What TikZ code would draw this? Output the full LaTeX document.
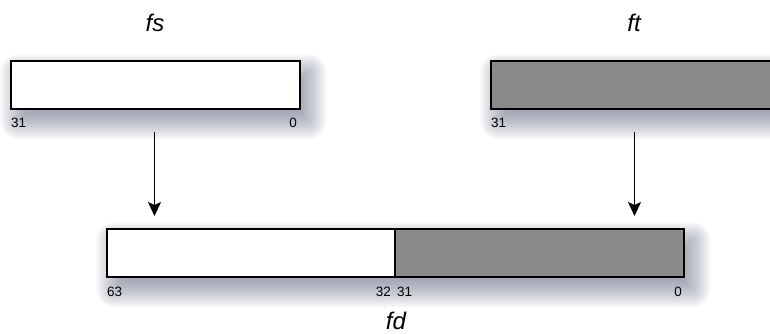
\documentclass[tikz,border=0pt]{standalone}
\usepackage{fontspec}
\setmainfont{Liberation Sans}
\usetikzlibrary{arrows.meta,positioning,backgrounds}
\definecolor{regshade}{RGB}{138,138,138}
\definecolor{shadowtint}{RGB}{70,78,108}
\tikzset{
  regbox/.style={draw=black,line width=1.5pt,minimum height=48pt,inner sep=0pt,anchor=north west},
  bitno/.style={font=\fontsize{13.5}{14}\selectfont,inner sep=0pt},
  regname/.style={font=\itshape\fontsize{24}{26}\selectfont,inner sep=0pt,anchor=base},
  moveto/.style={line width=1.1pt,-{Stealth[length=14pt,width=13pt,inset=3pt]}}
}
% soft shadow behind the span from #1.north west to #2.south east
\newcommand{\regshadow}[2]{%
  \foreach \k in {0,...,27}{%
    \pgfmathsetmacro{\rr}{18-\k}%
    \pgfmathsetmacro{\rc}{max(\rr,1)}%
    \fill[shadowtint,opacity=0.022,rounded corners=\rc pt]
      ([shift={(8-\rr,12-\rr)}]#1.north west) rectangle ([shift={(8+\rr,12+\rr)}]#2.south east);%
  }%
}

\begin{document}
\begin{tikzpicture}[x=1pt,y=-1pt]
  \useasboundingbox (0,0) rectangle (770,333);
  % source registers
  \node[regbox,fill=white,minimum width=289pt] (fsreg) at (10,60) {};
  \node[regbox,fill=regshade,minimum width=289pt] (ftreg) at (490,60) {};
  \node[regname] (fsname) at (155,31) {fs};
  \node[regname] (ftname) at (634,31) {ft};
  \node[bitno,anchor=north west] (fshi) at (11,118) {31};
  \node[bitno,anchor=north east] (fslo) at (297,118) {0};
  \node[bitno,anchor=north west] (fthi) at (491,118) {31};
  % destination register
  \node[regbox,fill=white,minimum width=288pt] (fdhi) at (106,228) {};
  \node[regbox,fill=regshade,minimum width=289pt] (fdlo) at (394,228) {};
  \node[regname] (fdname) at (396,329) {fd};
  \node[bitno,anchor=north west] (fdtop) at (107,287) {63};
  \node[bitno,anchor=north east] (fdmidhi) at (391,287) {32};
  \node[bitno,anchor=north west] (fdmidlo) at (397,287) {31};
  \node[bitno,anchor=north east] (fdbot) at (682,287) {0};
  % soft shadows
  \begin{scope}[on background layer]
    \regshadow{fsreg}{fsreg}
    \regshadow{ftreg}{ftreg}
    \regshadow{fdhi}{fdlo}
  \end{scope}
  % moves
  \coordinate (fsout) at (154.5,132);
  \coordinate (fdin) at (154.5,216);
  \coordinate (ftout) at (634.5,132);
  \coordinate (fdlin) at (634.5,216);
  \draw[moveto] (fsout) -- (fdin);
  \draw[moveto] (ftout) -- (fdlin);
\end{tikzpicture}
\end{document}
